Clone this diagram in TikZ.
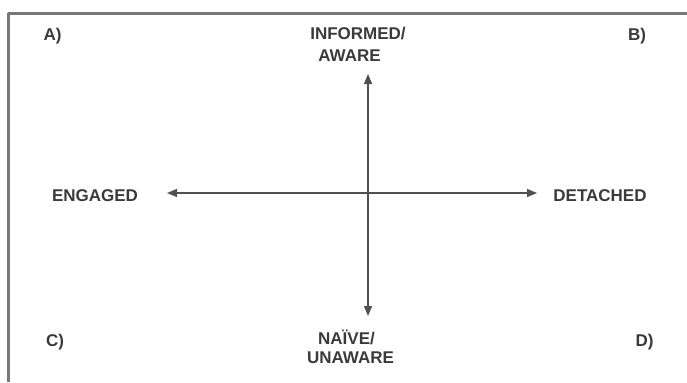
\documentclass[tikz,border=0pt]{standalone}
\usepackage{fontspec}
\setmainfont{Liberation Sans}
\usetikzlibrary{arrows.meta}
\definecolor{txtgray}{HTML}{3A3A3A}
\definecolor{framegray}{HTML}{787878}
\definecolor{axisgray}{HTML}{505050}
\tikzset{
  lbl/.style={inner sep=0pt,text height=12.2bp,text depth=0pt,color=txtgray,
    font=\fontsize{17bp}{20bp}\selectfont\bfseries},
  axis/.style={<->,color=axisgray,line width=1.2bp}
}
\begin{document}
\begin{tikzpicture}[line cap=round,line join=round,>={Triangle[length=10bp,width=8bp]},x=1bp,y=1bp]
\useasboundingbox (0,0) rectangle (687,382);
%\draw [color=black,, xstep=50,ystep=50] (0,0) grid (687,382);
\draw[color=framegray,line width=3bp,line cap=butt] (8.5,0) -- (8.5,368) -- (687,368);
% corner labels
\node[lbl] (qa) at (52.5,348) {A)};
\node[lbl] (qb) at (637,348) {B)};
\node[lbl] (qc) at (55,42) {C)};
\node[lbl] (qd) at (644.5,42) {D)};
% axis labels
\node[lbl] (informed) at (358,348.5) {INFORMED/};
\node[lbl] (aware) at (349.5,327) {AWARE};
\node[lbl] (naive) at (346.5,44) {NAÏVE/};
\node[lbl] (unaware) at (350.5,25) {UNAWARE};
\node[lbl] (engaged) at (95,187) {ENGAGED};
\node[lbl] (detached) at (600,187) {DETACHED};
% axes
\coordinate (top) at (368,308);
\coordinate (bottom) at (368,66);
\coordinate (left) at (167,189);
\coordinate (right) at (537,189);
\draw[axis] (top) -- (bottom);
\draw[axis] (left) -- (right);
\end{tikzpicture}
\end{document}
